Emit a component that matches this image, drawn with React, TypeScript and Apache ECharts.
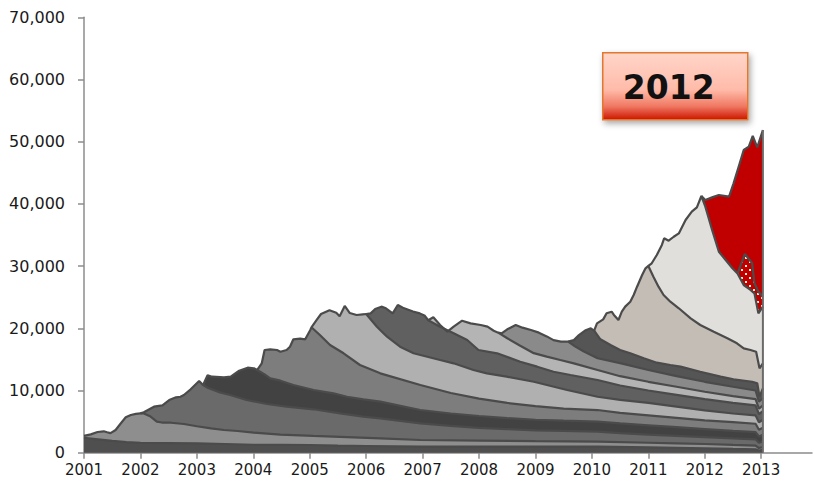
import React, { useEffect, useRef } from "react";
import * as echarts from "echarts";

type Pt = [number, number];

const years = [2001, 2002, 2003, 2004, 2005, 2006, 2007, 2008, 2009, 2010, 2011, 2012, 2013];
const yTicks = [0, 10000, 20000, 30000, 40000, 50000, 60000, 70000];
const highlightLabel = "2012";

// cumulative boundary (top edge) of each vintage layer, [year, value]
const pre2001: Pt[] = [[2001,2400],[2001.25,2150],[2001.5,1900],[2001.75,1700],[2002,1600],[2002.5,1550],[2003,1500],[2003.5,1400],[2004,1280],[2004.5,1260],[2005,1240],[2005.5,1150],[2006,1080],[2006.5,1020],[2007,970],[2008,970],[2009,970],[2010.1,970],[2011,850],[2011.5,780],[2012,700],[2012.5,600],[2012.9,550],[2012.96,350],[2013.03,450]];
const v2001: Pt[] = [[2001,2700],[2001.12,2950],[2001.24,3330],[2001.35,3440],[2001.41,3280],[2001.47,3150],[2001.56,3650],[2001.65,4700],[2001.74,5690],[2001.83,6060],[2001.92,6250],[2002,6330],[2002.06,6300],[2002.18,5800],[2002.29,5000],[2002.38,4850],[2002.54,4820],[2002.77,4610],[2003,4250],[2003.25,3920],[2003.48,3650],[2003.72,3490],[2004.01,3220],[2004.48,2900],[2005.06,2700],[2005.66,2500],[2006.25,2310],[2006.96,2040],[2008,1950],[2009,1850],[2010.1,1770],[2011,1600],[2011.5,1500],[2012,1400],[2012.5,1250],[2012.9,1150],[2012.96,750],[2013.03,900]];
const v2002: Pt[] = [[2002,6330],[2002.06,6490],[2002.24,7400],[2002.39,7620],[2002.51,8470],[2002.63,8900],[2002.71,9000],[2002.77,9280],[2002.89,10190],[2003.04,11530],[2003.11,10880],[2003.2,10400],[2003.41,9700],[2003.59,9280],[2003.88,8470],[2004.24,7830],[2004.59,7400],[2005.07,6980],[2005.54,6330],[2005.95,5790],[2006.25,5520],[2006.96,4720],[2007.5,4300],[2008,4000],[2008.5,3800],[2009,3600],[2009.5,3500],[2010.1,3380],[2010.5,3150],[2011,2900],[2011.5,2700],[2012,2500],[2012.5,2300],[2012.9,2150],[2012.96,1600],[2013.03,1800]];
const v2003: Pt[] = [[2003.11,10880],[2003.19,12440],[2003.27,12220],[2003.48,12120],[2003.6,12220],[2003.75,13180],[2003.9,13670],[2004.01,13570],[2004.07,13300],[2004.2,12600],[2004.3,11960],[2004.48,11580],[2004.71,10880],[2005.07,10080],[2005.42,9550],[2005.66,9000],[2005.95,8580],[2006.25,8200],[2006.96,6860],[2007.5,6300],[2008,5900],[2008.5,5550],[2009,5300],[2009.5,5150],[2010.1,4990],[2010.5,4700],[2011,4400],[2011.5,4100],[2012,3800],[2012.5,3500],[2012.9,3300],[2012.96,2600],[2013.03,2900]];
const v2004: Pt[] = [[2004.07,13300],[2004.15,14370],[2004.2,16510],[2004.3,16620],[2004.42,16510],[2004.48,16240],[2004.59,16510],[2004.65,17040],[2004.71,18230],[2004.83,18330],[2004.92,18230],[2005.01,19730],[2005.03,20160],[2005.18,18920],[2005.36,17310],[2005.6,15980],[2005.89,14100],[2006.25,12760],[2006.96,10880],[2007.5,9600],[2008,8700],[2008.5,8000],[2009,7500],[2009.5,7100],[2010.1,6860],[2010.5,6400],[2011,6000],[2011.5,5600],[2012,5200],[2012.5,4900],[2012.9,4650],[2012.96,3700],[2013.03,4000]];
const v2005: Pt[] = [[2005.03,20160],[2005.12,21300],[2005.2,22300],[2005.35,22900],[2005.47,22510],[2005.53,21950],[2005.62,23590],[2005.71,22450],[2005.83,22140],[2005.94,22250],[2006.0,22300],[2006.19,20260],[2006.37,18650],[2006.6,17040],[2006.84,15980],[2006.96,15710],[2007.31,14900],[2007.55,14370],[2007.9,13300],[2008.14,12760],[2008.49,12220],[2008.97,11410],[2009.56,10080],[2010.1,9000],[2010.5,8500],[2011,8000],[2011.5,7400],[2012,6800],[2012.5,6300],[2012.9,6000],[2012.96,4900],[2013.03,5300]];
const v2006: Pt[] = [[2006.0,22300],[2006.08,22400],[2006.16,23100],[2006.27,23480],[2006.35,23220],[2006.47,22410],[2006.56,23750],[2006.65,23300],[2006.83,22700],[2006.95,22400],[2007.04,22000],[2007.1,21300],[2007.31,20260],[2007.55,19190],[2007.79,18120],[2007.99,16510],[2008.32,15980],[2008.73,14630],[2009.03,13830],[2009.32,13020],[2009.62,12490],[2010.1,11690],[2010.5,10800],[2011,10000],[2011.5,9300],[2012,8600],[2012.5,8000],[2012.9,7600],[2012.96,6200],[2013.03,6700]];
const v2007: Pt[] = [[2007.1,21300],[2007.19,21770],[2007.31,20530],[2007.44,19450],[2007.55,20260],[2007.7,21220],[2007.85,20800],[2008.03,20530],[2008.15,20260],[2008.26,19600],[2008.34,19300],[2008.5,18400],[2008.73,17200],[2008.97,16000],[2009.2,15440],[2009.44,14900],[2009.68,14370],[2010.1,13300],[2010.5,12300],[2011,11400],[2011.5,10600],[2012,9800],[2012.5,9100],[2012.9,8600],[2012.96,7100],[2013.03,7600]];
const v2008: Pt[] = [[2008.34,19300],[2008.4,19190],[2008.5,19840],[2008.65,20530],[2008.77,20100],[2008.92,19730],[2009.06,19300],[2009.2,18700],[2009.32,18100],[2009.45,17850],[2009.58,17850],[2009.7,17100],[2009.85,16300],[2010.1,15180],[2010.5,14400],[2011,13300],[2011.5,12300],[2012,11400],[2012.5,10600],[2012.9,10000],[2012.96,8200],[2013.03,8800]];
const v2009: Pt[] = [[2009.58,17850],[2009.68,18100],[2009.77,18900],[2009.89,19700],[2009.98,20000],[2010.04,19620],[2010.15,18230],[2010.33,17310],[2010.5,16510],[2010.68,15980],[2010.92,15180],[2011.15,14470],[2011.39,14100],[2011.57,13830],[2011.92,13020],[2012.28,12220],[2012.51,11800],[2012.84,11410],[2012.93,11160],[2012.97,9000],[2013.03,10350]];
const v2010: Pt[] = [[2010.04,19620],[2010.09,20800],[2010.2,21440],[2010.26,22410],[2010.35,22670],[2010.39,22140],[2010.47,21330],[2010.53,22670],[2010.59,23480],[2010.68,24280],[2010.74,25360],[2010.8,26690],[2010.89,28570],[2010.95,29650],[2011.0,30020],[2011.09,28300],[2011.18,26690],[2011.27,25360],[2011.39,24280],[2011.54,23220],[2011.75,21610],[2011.92,20530],[2012.16,19450],[2012.4,18390],[2012.57,17590],[2012.69,16780],[2012.81,16510],[2012.91,16240],[2012.97,13570],[2013.03,14370]];
const v2011: Pt[] = [[2011.0,30020],[2011.06,30450],[2011.15,31790],[2011.24,33400],[2011.28,34470],[2011.36,34080],[2011.45,34720],[2011.54,35260],[2011.66,37410],[2011.77,38750],[2011.86,39450],[2011.94,41270],[2012.01,39550],[2012.13,35800],[2012.25,32310],[2012.37,30980],[2012.49,29650],[2012.58,28800],[2012.69,26960],[2012.81,26160],[2012.88,25620],[2012.95,22410],[2013.03,23480]];
const v2012part: Pt[] = [[2012.58,28800],[2012.71,31950],[2012.84,30450],[2012.88,27240],[2012.95,25880],[2013.03,25080]];
const v2012: Pt[] = [[2011.94,41270],[2012.01,40630],[2012.13,41050],[2012.25,41430],[2012.43,41160],[2012.51,43310],[2012.6,45980],[2012.69,48670],[2012.78,49200],[2012.85,50920],[2012.93,49100],[2013.03,51880]];

const layerColors = ["#4f4f4f","#8e8e8e","#6a6a6a","#424242","#7d7d7d","#b0b0b0","#606060","#b4b4b4","#8a8a8a","#555555","#c4bdb6","#e0dfdc"];

function makeDots(): HTMLCanvasElement {
  const c = document.createElement("canvas");
  c.width = 8; c.height = 8;
  const g = c.getContext("2d")!;
  g.fillStyle = "#c00000"; g.fillRect(0, 0, 8, 8);
  g.fillStyle = "#fff0d2";
  g.fillRect(1, 1, 2, 2);
  g.fillRect(5, 5, 2, 2);
  return c;
}

export default function App() {
  const ref = useRef<HTMLDivElement>(null);
  useEffect(() => {
    document.body.style.margin = "0";
    const chart = echarts.init(ref.current!, null, { renderer: "svg" });
    const layers: Pt[][] = [pre2001, v2001, v2002, v2003, v2004, v2005, v2006, v2007, v2008, v2009, v2010, v2011];
    const lineStyle = { color: "#4b4b4b", width: 2.2 };
    const mk = (name: string, data: Pt[], fill: any, z = 2) => ({
      name, type: "line", data, symbol: "none", smooth: false, z,
      lineStyle, areaStyle: { color: fill, opacity: 1 }, silent: true,
    });
    const series: any[] = [];
    series.push(mk("2012", v2012, "#c00000"));
    series.push(mk("2012b", v2012part, { image: makeDots(), repeat: "repeat", imageWidth: 8, imageHeight: 8 }));
    for (let i = layers.length - 1; i >= 0; i--) {
      series.push(mk(String(2000 + i), layers[i], layerColors[i]));
    }
    const last = v2012[v2012.length - 1];
    series.push({
      type: "line", data: [[last[0], 0], [last[0], last[1]]], symbol: "none", z: 3,
      lineStyle: { color: "#6a6a6a", width: 2 }, silent: true,
    });
    chart.setOption({
      animation: false,
      grid: { left: 84, right: 2, top: 17.3, bottom: 34.3 },
      xAxis: {
        type: "value", min: 2001, max: 2013.9,
        axisLine: { lineStyle: { color: "#8c8c8c", width: 1.5 } },
        axisTick: { customValues: years, length: 6, lineStyle: { color: "#8c8c8c", width: 1.5 } },
        axisLabel: { customValues: years, margin: 10, color: "#1a1a1a", fontFamily: "DejaVu Sans", fontSize: 15, formatter: (v: number) => String(v) },
        splitLine: { show: false },
      },
      yAxis: {
        type: "value", min: 0, max: 70000, interval: 10000,
        axisLine: { show: true, lineStyle: { color: "#8c8c8c", width: 1.5 } },
        axisTick: { show: true, length: 6, lineStyle: { color: "#8c8c8c", width: 1.5 } },
        axisLabel: { customValues: yTicks, margin: 19, color: "#1a1a1a", fontFamily: "DejaVu Sans", fontSize: 16, formatter: (v: number) => v.toLocaleString("en-US") },
        splitLine: { show: false },
      },
      series,
      graphic: [
        {
          type: "group", left: 602, top: 52,
          children: [
            {
              type: "rect", shape: { x: 0, y: 0, width: 145, height: 67 },
              style: {
                fill: { type: "linear", x: 0, y: 0, x2: 0, y2: 1, colorStops: [
                  { offset: 0, color: "#ffd6ca" }, { offset: 0.55, color: "#ffbba9" },
                  { offset: 0.8, color: "#f07862" }, { offset: 1, color: "#cc1400" } ] },
                stroke: "#e2772f", lineWidth: 1.5,
                shadowBlur: 6, shadowColor: "rgba(0,0,0,0.35)", shadowOffsetX: 2, shadowOffsetY: 3,
              },
            },
            {
              type: "text", x: 66, y: 35,
              style: { text: highlightLabel, font: "bold 33px 'DejaVu Sans'", fill: "#111", align: "center", verticalAlign: "middle" },
            },
          ],
        },
      ],
    });
    return () => chart.dispose();
  }, []);
  return <div ref={ref} style={{ width: 814, height: 487 }} />;
}
